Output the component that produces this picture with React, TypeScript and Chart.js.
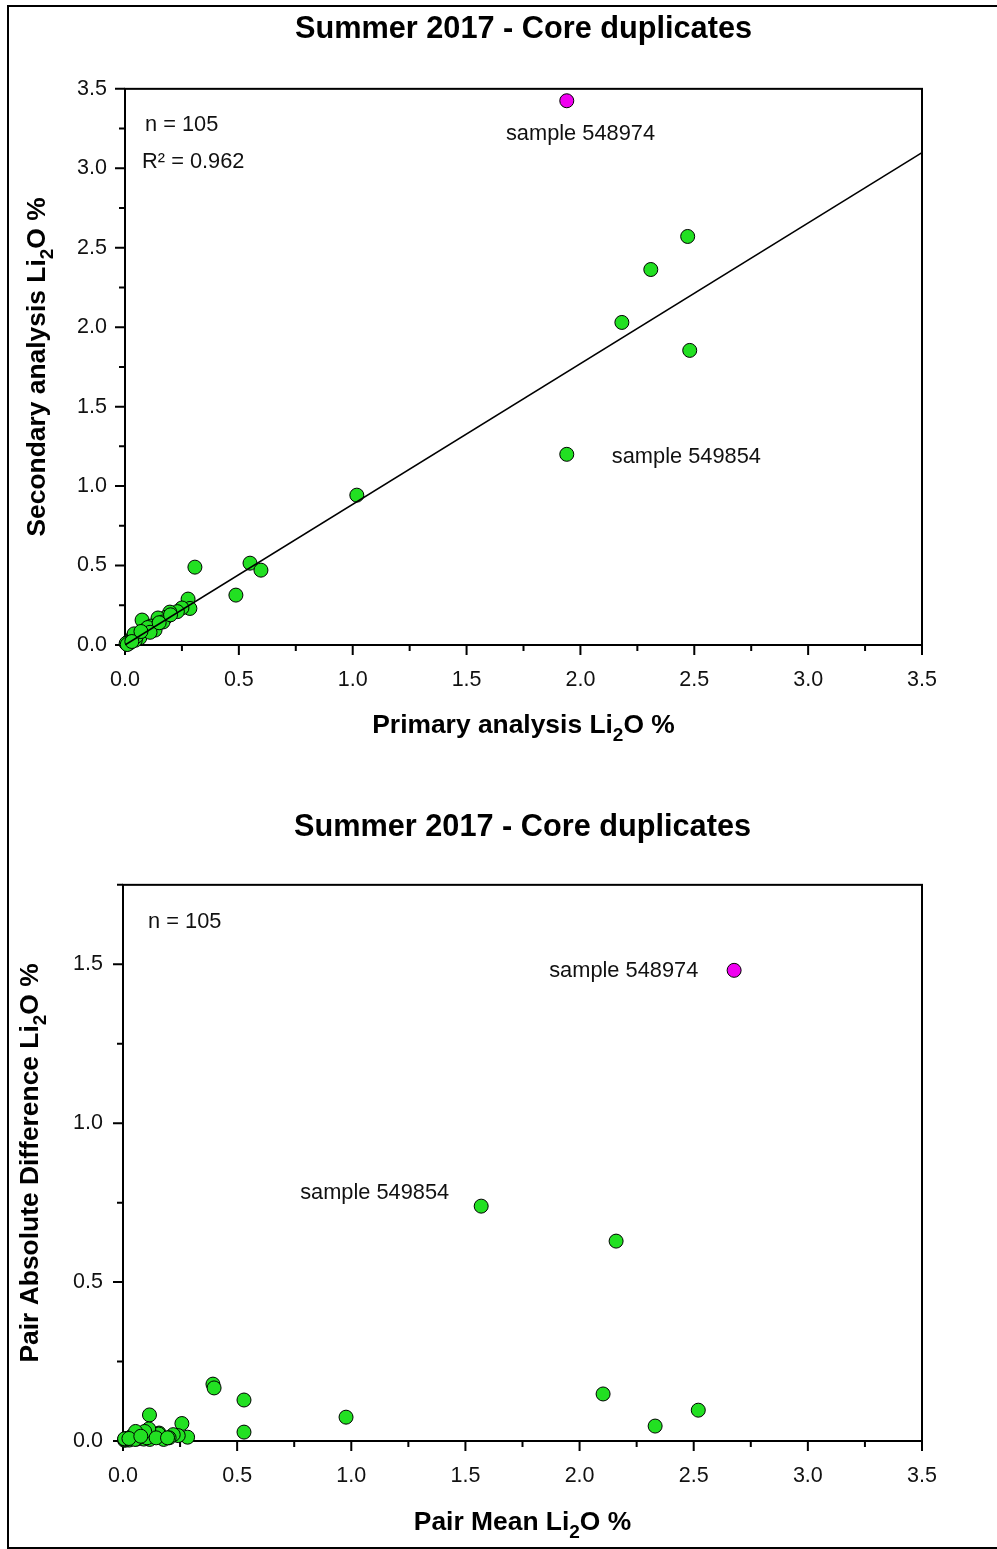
import React, { useEffect, useRef } from "react";
import { Chart, registerables } from "chart.js";

Chart.register(...registerables);

const FONT = "'Liberation Sans', Arial, Helvetica, sans-serif";
const GREEN = "#22e022";
const MAGENTA = "#f000f0";

const chartTitle = "Summer 2017 - Core duplicates";

// ---- axis titles (text before subscript, subscript, text after) ----
const xTitle1 = ["Primary analysis Li", "2", "O %"];
const yTitle1 = ["Secondary analysis Li", "2", "O %"];
const xTitle2 = ["Pair Mean Li", "2", "O %"];
const yTitle2 = ["Pair Absolute Difference Li", "2", "O %"];

// ---- axis ticks ----
const xMajorTicks = [0, 0.5, 1.0, 1.5, 2.0, 2.5, 3.0, 3.5];
const xMinorTicks = [0.25, 0.75, 1.25, 1.75, 2.25, 2.75, 3.25];
const y1MajorTicks = [0, 0.5, 1.0, 1.5, 2.0, 2.5, 3.0, 3.5];
const y1MinorTicks = [0.25, 0.75, 1.25, 1.75, 2.25, 2.75, 3.25];
const y2MajorTicks = [0, 0.5, 1.0, 1.5];
const y2MinorTicks = [0.25, 0.75, 1.25, 1.75];

// ---- chart 1: primary vs secondary ----
const primaryGreen = [
  2.471, 2.309, 2.182, 2.48, 1.94, 1.018, 0.307, 0.549, 0.597, 0.487,
  0.277, 0.285, 0.25, 0.23, 0.197, 0.18, 0.145, 0.167, 0.075, 0.114,
  0.088, 0.132, 0.1, 0.057, 0.065, 0.035, 0.045, 0.025, 0.013, 0.008,
  0.02, 0.005, 0.05, 0.11, 0.15, 0.04, 0.01, 0.03, 0.07, 0.2,
];
const secondaryGreen = [
  2.571, 2.363, 2.03, 1.854, 1.2, 0.943, 0.49, 0.515, 0.471, 0.314,
  0.289, 0.23, 0.233, 0.21, 0.207, 0.175, 0.17, 0.145, 0.157, 0.119,
  0.094, 0.094, 0.11, 0.063, 0.045, 0.05, 0.03, 0.028, 0.019, 0.006,
  0.012, 0.01, 0.055, 0.08, 0.14, 0.07, 0.003, 0.022, 0.085, 0.19,
];
const primaryMagenta = [1.94];
const secondaryMagenta = [3.425];
const fitLineX = [0, 3.5];
const fitLineY = [0, 3.099];

// ---- chart 2: pair mean vs pair absolute difference ----
const meanGreen = [
  1.569, 2.16, 2.103, 2.52, 2.331, 0.977, 0.394, 0.399, 0.53, 0.53,
  0.283, 0.258, 0.242, 0.22, 0.202, 0.178, 0.158, 0.156, 0.116, 0.117,
  0.091, 0.113, 0.105, 0.06, 0.055, 0.043, 0.038, 0.027, 0.016, 0.007,
  0.016, 0.008, 0.053, 0.095, 0.145, 0.055, 0.007, 0.026, 0.078, 0.195,
];
const diffGreen = [
  0.739, 0.629, 0.148, 0.097, 0.047, 0.075, 0.179, 0.167, 0.129, 0.028,
  0.012, 0.055, 0.017, 0.02, 0.01, 0.005, 0.025, 0.022, 0.082, 0.005,
  0.006, 0.038, 0.01, 0.006, 0.02, 0.015, 0.015, 0.003, 0.006, 0.002,
  0.008, 0.005, 0.005, 0.03, 0.01, 0.03, 0.007, 0.008, 0.015, 0.01,
];
const meanMagenta = [2.677];
const diffMagenta = [1.481];

// ---- text annotations (data coordinates, left edge / vertical middle) ----
const notes1 = [
  { text: "n = 105", x: 0.088, y: 3.275 },
  { text: "R\u00B2 = 0.962", x: 0.075, y: 3.04 },
  { text: "sample 548974", x: 1.673, y: 3.218 },
  { text: "sample 549854", x: 2.138, y: 1.182 },
];
const notes2 = [
  { text: "n = 105", x: 0.11, y: 1.632 },
  { text: "sample 548974", x: 1.867, y: 1.478 },
  { text: "sample 549854", x: 0.776, y: 0.78 },
];

const zip = (xs: number[], ys: number[]) => xs.map((x, i) => ({ x, y: ys[i] }));

type Cfg = {
  titlePad: { top: number; bottom: number };
  xTitle: string[];
  xTitleBaseline: number;
  yTitle: string[];
  yTitleBaseline: number;
  xAxisHeight: number;
  yAxisWidth: number;
  yMax: number;
  yMajor: number[];
  yMinor: number[];
  yTickPad: number;
  notes: { text: string; x: number; y: number }[];
  datasets: any[];
};

const MAIN_FONT = `bold 26.4px ${FONT}`;
const SUB_FONT = `bold 19px ${FONT}`;

// draws "before" + subscript + "after", centred on cx, baseline given
function drawSubTitle(ctx: CanvasRenderingContext2D, parts: string[], cx: number, baseline: number) {
  ctx.font = MAIN_FONT;
  const w0 = ctx.measureText(parts[0]).width;
  const w2 = ctx.measureText(parts[2]).width;
  ctx.font = SUB_FONT;
  const w1 = ctx.measureText(parts[1]).width;
  const total = w0 + w1 + w2;
  let x = cx - total / 2;
  ctx.textAlign = "left";
  ctx.textBaseline = "alphabetic";
  ctx.font = MAIN_FONT;
  ctx.fillText(parts[0], x, baseline);
  x += w0;
  ctx.font = SUB_FONT;
  ctx.fillText(parts[1], x, baseline + 8);
  x += w1;
  ctx.font = MAIN_FONT;
  ctx.fillText(parts[2], x, baseline);
}

function makeChart(canvas: HTMLCanvasElement, cfg: Cfg) {
  const framePlugin = {
    id: "frameAndTicks",
    beforeDatasetsDraw(chart: any) {
      const { ctx, chartArea } = chart;
      const { left, right, top, bottom } = chartArea;
      ctx.save();
      ctx.strokeStyle = "#000";
      ctx.lineWidth = 2;
      ctx.strokeRect(left, top, right - left, bottom - top);
      const xs = chart.scales.x;
      const ys = chart.scales.y;
      ctx.beginPath();
      xMajorTicks.forEach((v) => {
        const p = xs.getPixelForValue(v);
        ctx.moveTo(p, bottom);
        ctx.lineTo(p, bottom + 10);
      });
      xMinorTicks.forEach((v) => {
        const p = xs.getPixelForValue(v);
        ctx.moveTo(p, bottom);
        ctx.lineTo(p, bottom + 6);
      });
      cfg.yMajor.forEach((v) => {
        const p = ys.getPixelForValue(v);
        ctx.moveTo(left, p);
        ctx.lineTo(left - 10, p);
      });
      cfg.yMinor.forEach((v) => {
        const p = ys.getPixelForValue(v);
        ctx.moveTo(left, p);
        ctx.lineTo(left - 6, p);
      });
      ctx.stroke();
      ctx.restore();
    },
    afterDraw(chart: any) {
      const { ctx, chartArea } = chart;
      const xs = chart.scales.x;
      const ys = chart.scales.y;
      ctx.save();
      ctx.font = `21.8px ${FONT}`;
      ctx.fillStyle = "#111";
      ctx.textAlign = "left";
      ctx.textBaseline = "middle";
      cfg.notes.forEach((n) => {
        ctx.fillText(n.text, xs.getPixelForValue(n.x), ys.getPixelForValue(n.y));
      });
      ctx.fillStyle = "#000";
      // axis titles with subscripts
      drawSubTitle(ctx, cfg.xTitle, (chartArea.left + chartArea.right) / 2, cfg.xTitleBaseline);
      ctx.translate(cfg.yTitleBaseline, (chartArea.top + chartArea.bottom) / 2);
      ctx.rotate(-Math.PI / 2);
      drawSubTitle(ctx, cfg.yTitle, 0, 0);
      ctx.restore();
    },
  };

  return new Chart(canvas, {
    type: "scatter",
    data: { datasets: cfg.datasets },
    plugins: [framePlugin],
    options: {
      responsive: false,
      animation: false,
      layout: { padding: { left: 0, right: 75, top: 0, bottom: 0 } },
      plugins: {
        legend: { display: false },
        tooltip: { enabled: false },
        title: {
          display: true,
          text: chartTitle,
          fullSize: false,
          color: "#000",
          font: { family: FONT, size: 30.7, weight: "bold", lineHeight: 1.2 },
          padding: cfg.titlePad,
        },
      },
      scales: {
        x: {
          type: "linear",
          min: 0,
          max: 3.5,
          afterBuildTicks: (s: any) => {
            s.ticks = xMajorTicks.map((v) => ({ value: v }));
          },
          afterFit: (s: any) => {
            s.height = cfg.xAxisHeight;
          },
          ticks: {
            autoSkip: false,
            maxRotation: 0,
            padding: 12,
            color: "#111",
            font: { family: FONT, size: 21.5 },
            callback: (v: any) => Number(v).toFixed(1),
          },
          grid: { drawOnChartArea: false, drawTicks: true, tickLength: 10, tickColor: "rgba(0,0,0,0)" },
          border: { display: false },
          title: { display: false },
        },
        y: {
          type: "linear",
          min: 0,
          max: cfg.yMax,
          afterBuildTicks: (s: any) => {
            s.ticks = cfg.yMajor.map((v) => ({ value: v }));
          },
          afterFit: (s: any) => {
            s.width = cfg.yAxisWidth;
          },
          ticks: {
            autoSkip: false,
            padding: cfg.yTickPad,
            color: "#111",
            font: { family: FONT, size: 21.5 },
            callback: (v: any) => Number(v).toFixed(1),
          },
          grid: { drawOnChartArea: false, drawTicks: true, tickLength: 10, tickColor: "rgba(0,0,0,0)" },
          border: { display: false },
          title: { display: false },
        },
      },
    } as any,
  });
}

const pointStyle = (color: string) => ({
  backgroundColor: color,
  borderColor: "#000",
  borderWidth: 1,
  pointRadius: 7,
  pointHoverRadius: 7,
  showLine: false,
  clip: false as any,
});

export default function App() {
  const ref1 = useRef<HTMLCanvasElement>(null);
  const ref2 = useRef<HTMLCanvasElement>(null);

  useEffect(() => {
    const c1 = makeChart(ref1.current!, {
      titlePad: { top: 11, bottom: 41 },
      xTitle: xTitle1,
      xTitleBaseline: 733,
      yTitle: yTitle1,
      yTitleBaseline: 45,
      xAxisHeight: 130,
      yAxisWidth: 125,
      yMax: 3.5,
      yMajor: y1MajorTicks,
      yMinor: y1MinorTicks,
      yTickPad: 8,
      notes: notes1,
      datasets: [
        {
          label: "fit",
          data: zip(fitLineX, fitLineY),
          showLine: true,
          borderColor: "#000",
          borderWidth: 1.6,
          pointRadius: 0,
          order: 0,
        },
        { label: "duplicates", data: zip(primaryGreen, secondaryGreen), ...pointStyle(GREEN), order: 2 },
        { label: "sample 548974", data: zip(primaryMagenta, secondaryMagenta), ...pointStyle(MAGENTA), order: 1 },
      ],
    });
    const c2 = makeChart(ref2.current!, {
      titlePad: { top: 19.5, bottom: 38.5 },
      xTitle: xTitle2,
      xTitleBaseline: 740,
      yTitle: yTitle2,
      yTitleBaseline: 38,
      xAxisHeight: 108,
      yAxisWidth: 123,
      yMax: 1.75,
      yMajor: y2MajorTicks,
      yMinor: y2MinorTicks,
      yTickPad: 10,
      notes: notes2,
      datasets: [
        { label: "duplicates", data: zip(meanGreen, diffGreen), ...pointStyle(GREEN), order: 2 },
        { label: "sample 548974", data: zip(meanMagenta, diffMagenta), ...pointStyle(MAGENTA), order: 1 },
      ],
    });
    return () => {
      c1.destroy();
      c2.destroy();
    };
  }, []);

  return (
    <div style={{ position: "absolute", left: 0, top: 0, width: 997, height: 1549, overflow: "hidden", background: "#fff" }}>
      <div
        style={{
          position: "absolute",
          left: 7,
          top: 5,
          width: 1010,
          height: 1544,
          boxSizing: "border-box",
          border: "2px solid #000",
        }}
      />
      <canvas ref={ref1} width={997} height={775} style={{ position: "absolute", left: 0, top: 0, width: 997, height: 775 }} />
      <canvas ref={ref2} width={997} height={759} style={{ position: "absolute", left: 0, top: 790, width: 997, height: 759 }} />
    </div>
  );
}
